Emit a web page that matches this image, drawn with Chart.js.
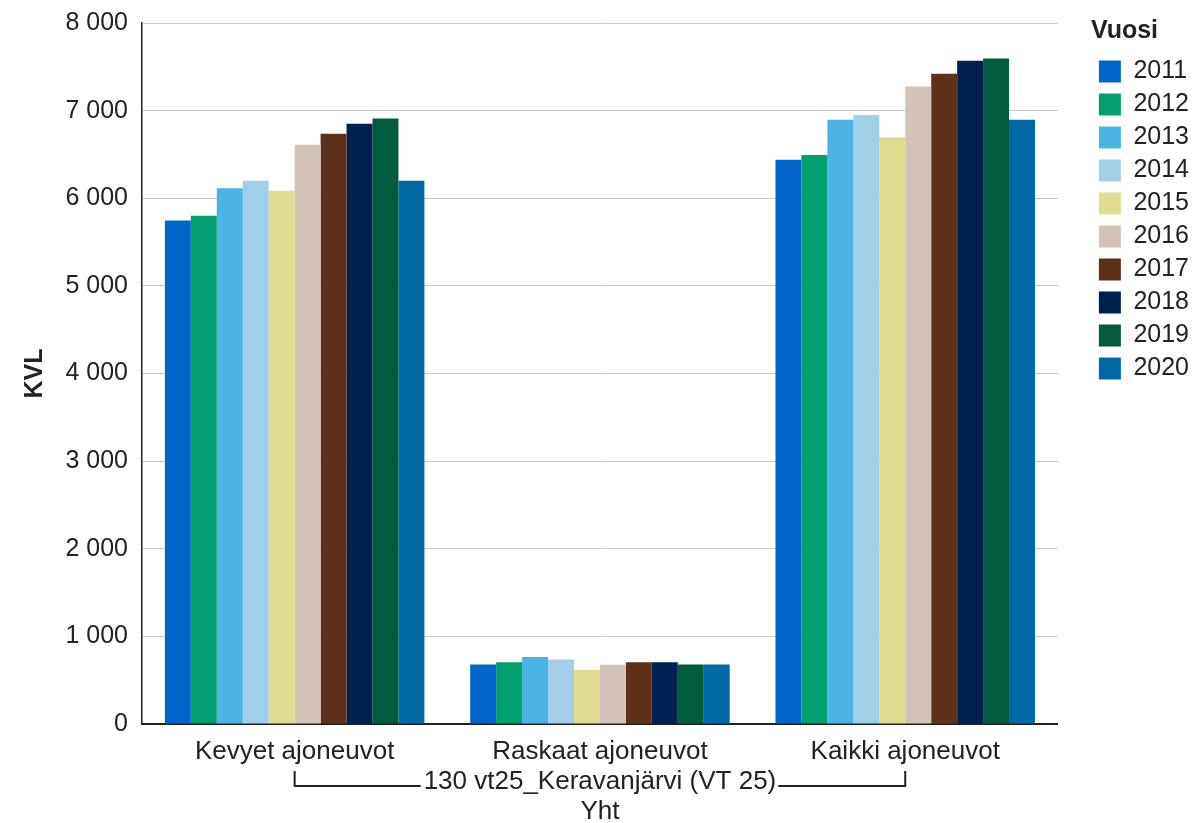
<!DOCTYPE html>
<html>
<head>
<meta charset="utf-8">
<script src="https://cdn.jsdelivr.net/npm/chart.js@4.4.1/dist/chart.umd.min.js"></script>
<style>
  html, body { margin: 0; padding: 0; background: #fff; }
  #wrap { width: 1199px; height: 823px; }
</style>
</head>
<body>
<div id="wrap"><canvas id="kvlChart"></canvas></div>
<script>
const categories = ['Kevyet ajoneuvot', 'Raskaat ajoneuvot', 'Kaikki ajoneuvot'];
const years = ['2011', '2012', '2013', '2014', '2015', '2016', '2017', '2018', '2019', '2020'];
const yearColors = ['#0066cc', '#00a06e', '#4cb4e4', '#a2cfe8', '#e0dc92', '#d3c3b8', '#5c3019', '#00214f', '#005c3c', '#0069a6'];

// KVL per year: [Kevyet, Raskaat, Kaikki]
const v2011 = [5745, 680, 6440];
const v2012 = [5800, 705, 6495];
const v2013 = [6115, 765, 6895];
const v2014 = [6200, 735, 6950];
const v2015 = [6085, 620, 6695];
const v2016 = [6610, 675, 7275];
const v2017 = [6735, 705, 7420];
const v2018 = [6850, 705, 7570];
const v2019 = [6910, 680, 7595];
const v2020 = [6200, 680, 6895];
const seriesValues = [v2011, v2012, v2013, v2014, v2015, v2016, v2017, v2018, v2019, v2020];

const yTicks = [0, 1000, 2000, 3000, 4000, 5000, 6000, 7000, 8000];
const groupTitle = '130 vt25_Keravanjärvi (VT 25)';
const groupSub = 'Yht';

const FONT = 'Arial, "Liberation Sans", sans-serif';

function fmt(v) {
    return String(v).replace(/\B(?=(\d{3})+(?!\d))/g, ' ');
}

// bracket joining first and last category under the labels
const bracketPlugin = {
    id: 'bracket',
    afterDraw(chart) {
        const x = chart.scales.x;
        const t = x.options.title;
        const lh = 30;
        const y1 = x.bottom - t.padding.bottom - lh / 2 - lh;
        const ctx = chart.ctx;
        ctx.save();
        ctx.font = '26px ' + FONT;
        const w = ctx.measureText(groupTitle).width;
        const cx = x.getPixelForValue(1);
        const xl = x.getPixelForValue(0);
        const xr = x.getPixelForValue(2);
        const yb = y1 + 4;
        ctx.strokeStyle = '#222';
        ctx.lineWidth = 2;
        ctx.beginPath();
        ctx.moveTo(xl, y1 - 11);
        ctx.lineTo(xl, yb);
        ctx.lineTo(cx - w / 2 - 3, yb);
        ctx.moveTo(cx + w / 2 + 2, yb);
        ctx.lineTo(xr, yb);
        ctx.lineTo(xr, y1 - 11);
        ctx.stroke();
        ctx.restore();
    }
};

const ctx = document.getElementById('kvlChart').getContext('2d');

new Chart(ctx, {
    type: 'bar',
    data: {
        labels: categories,
        datasets: years.map((y, i) => ({
            label: y,
            data: seriesValues[i],
            backgroundColor: yearColors[i],
            borderWidth: 0,
            categoryPercentage: 0.85,
            barPercentage: 1.0
        }))
    },
    options: {
        responsive: true,
        maintainAspectRatio: false,
        animation: false,
        layout: { padding: { top: 2, left: 0, right: 0, bottom: 0 } },
        plugins: {
            tooltip: { enabled: false },
            legend: {
                position: 'right',
                align: 'start',
                title: {
                    display: true,
                    text: 'Vuosi',
                    position: 'start',
                    color: '#222',
                    font: { family: FONT, size: 25, weight: 'bold' },
                    padding: { top: 17, bottom: 2 }
                },
                labels: {
                    color: '#222',
                    font: { family: FONT, size: 25 },
                    boxWidth: 22,
                    boxHeight: 22,
                    padding: 8
                }
            }
        },
        scales: {
            x: {
                afterFit(s) { s.height = 99; },
                grid: { display: false, drawTicks: false },
                border: { color: '#222', width: 2 },
                ticks: {
                    color: '#222',
                    font: { family: FONT, size: 26 },
                    padding: 12,
                    maxRotation: 0
                },
                title: {
                    display: true,
                    text: [groupTitle, groupSub],
                    color: '#222',
                    font: { family: FONT, size: 26, lineHeight: 30 / 26 },
                    padding: { top: 0, bottom: -4 }
                }
            },
            y: {
                min: 0,
                max: 8000,
                afterFit(s) { s.width = 142; },
                afterBuildTicks(s) { s.ticks = yTicks.map(v => ({ value: v })); },
                grid: { color: '#c8c8c8', lineWidth: 1, drawTicks: true, tickLength: 6, tickColor: 'rgba(0,0,0,0)' },
                border: { color: '#222', width: 1.5 },
                ticks: {
                    color: '#222',
                    font: { family: FONT, size: 25 },
                    padding: 8,
                    callback: v => fmt(v)
                },
                title: {
                    display: true,
                    text: 'KVL',
                    color: '#222',
                    font: { family: FONT, size: 25, weight: 'bold' },
                    padding: { top: 20, bottom: 10 }
                }
            },
            spacer: {
                position: 'right',
                display: true,
                afterFit(s) { s.width = 33; },
                grid: { display: false },
                border: { display: false },
                ticks: { display: false }
            }
        }
    },
    plugins: [bracketPlugin]
});
</script>
</body>
</html>
